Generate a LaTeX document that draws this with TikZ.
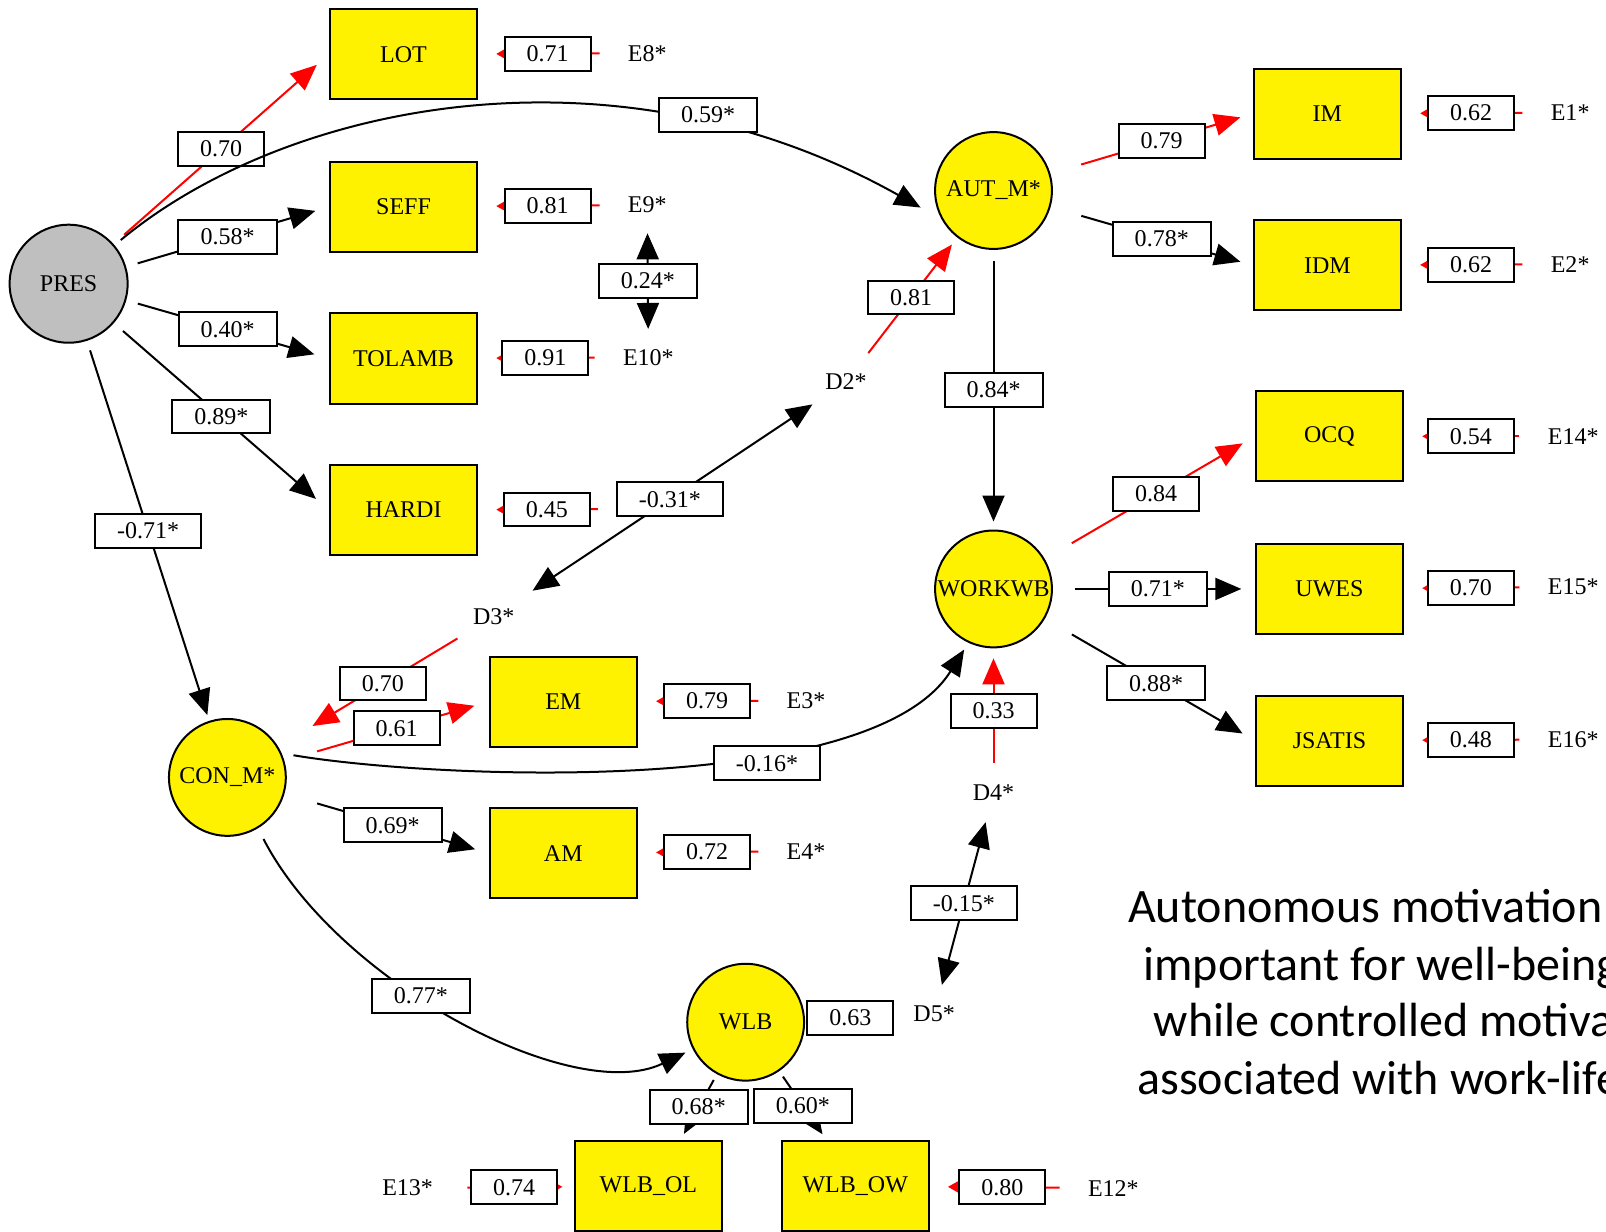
\documentclass[tikz,border=0pt]{standalone}
\usepackage{fontspec}
\setmainfont{Liberation Serif}
\newfontfamily\notefont{Carlito}
\usetikzlibrary{arrows.meta}

\tikzset{
  latent/.style={circle, draw, line width=1pt, fill=yellow, minimum size=58.4pt, inner sep=0pt},
  manifest/.style={rectangle, draw, line width=1pt, fill=yellow, minimum width=73.7pt, minimum height=45pt, inner sep=0pt},
  valbox/.style={rectangle, draw=black, text=black, line width=1pt, fill=white, inner xsep=11pt, inner ysep=0pt, minimum height=16.9pt},
  errlab/.style={inner sep=0pt},
  load/.style={line width=1pt, -{Triangle[length=13pt,width=11pt]}},
  redload/.style={load, red},
  covline/.style={line width=1pt, {Triangle[length=13pt,width=11pt]}-{Triangle[length=13pt,width=11pt]}},
  errline/.style={red, line width=1pt, -{Triangle[length=6pt,width=6.5pt]}, shorten <=14pt, shorten >=9pt}
}

\begin{document}
\begin{tikzpicture}[x=0.512pt,y=0.512pt,yscale=-1,font=\fontsize{12}{14.4}\selectfont]
\useasboundingbox (0,0) rectangle (1568,1202);

%Shape: Circle
\node[latent, fill=black!25, minimum size=59pt] (PRES) at (67,277) {PRES};
\node[latent] (AUTM) at (970,186) {AUT\_M*};
\node[latent] (WORKWB) at (970,575) {WORKWB};
\node[latent] (CONM) at (222,759) {CON\_M*};
\node[latent] (WLB) at (728,998) {WLB};

%Shape: Rectangle
\node[manifest] (LOT) at (394,53) {LOT};
\node[manifest] (SEFF) at (394,202) {SEFF};
\node[manifest] (TOLAMB) at (394,350) {TOLAMB};
\node[manifest] (HARDI) at (394,498) {HARDI};
\node[manifest] (EM) at (550,685) {EM};
\node[manifest] (AM) at (550,833) {AM};
\node[manifest] (IM) at (1296,111) {IM};
\node[manifest] (IDM) at (1296,259) {IDM};
\node[manifest] (OCQ) at (1298,426) {OCQ};
\node[manifest] (UWES) at (1298,575) {UWES};
\node[manifest] (JSATIS) at (1298,723) {JSATIS};
\node[manifest] (WLBOL) at (633,1158) {WLB\_OL};
\node[manifest] (WLBOW) at (835,1158) {WLB\_OW};

% Text Node
\node[errlab] (E8) at (632,52) {E8*};
\node[errlab] (E9) at (632,200) {E9*};
\node[errlab] (E10) at (633,349) {E10*};
\coordinate (E11) at (611,497);
\node[errlab] (E3) at (787,684) {E3*};
\node[errlab] (E4) at (787,831) {E4*};
\node[errlab] (E1) at (1533,110) {E1*};
\node[errlab] (E2) at (1533,258) {E2*};
\node[errlab] (E14) at (1536,426) {E14*};
\node[errlab] (E15) at (1536,573) {E15*};
\node[errlab] (E16) at (1536,722) {E16*};
\node[errlab] (E13) at (398,1160) {E13*};
\node[errlab] (E12) at (1087,1160) {E12*};
\node[errlab] (D2) at (826,373) {D2*};
\node[errlab] (D3) at (482,602) {D3*};
\node[errlab] (D4) at (970,774) {D4*};
\node[errlab] (D5) at (912,990) {D5*};

%Straight Lines
\draw[redload, shorten <=7pt, shorten >=8pt] (PRES) -- node[valbox]{0.70} (LOT.west);
\draw[load, shorten <=6pt, shorten >=7pt] (PRES) -- node[valbox]{0.58*} (SEFF.west);
\draw[load, shorten <=6pt, shorten >=7.5pt] (PRES) -- node[valbox]{0.40*} (TOLAMB.west);
\draw[load, shorten <=6pt, shorten >=8.5pt] (PRES) -- node[valbox]{0.89*} (HARDI.west);
\draw[load, shorten <=5pt, shorten >=3pt] (PRES) -- node[valbox]{-0.71*} (CONM);

%Curve Lines
\draw[load, shorten <=4pt, shorten >=12pt] (PRES.40) .. controls (280,100) and (600,35) .. node[valbox, pos=0.76, yshift=6.5pt]{0.59*} (AUTM.209);
\draw[load, shorten <=6pt, shorten >=4pt] (CONM.24) .. controls (420,760) and (850,780) .. node[valbox, pos=0.65, yshift=-7pt]{-0.16*} (WORKWB.245);
\draw[load, shorten <=6pt, shorten >=4pt] (CONM.-59) .. controls (330,960) and (560,1080) .. node[valbox, pos=0.42]{0.77*} (WLB.207);

%Straight Lines
\draw[redload, shorten <=13pt, shorten >=20pt] (D3) -- node[valbox, pos=0.48]{0.70} (CONM);
\draw[redload, shorten <=17pt, shorten >=7.4pt] (CONM) -- node[valbox, pos=0.55]{0.61} (EM.west);
\draw[load, shorten <=17pt, shorten >=7pt] (CONM) -- node[valbox, pos=0.53]{0.69*} (AM.west);
\draw[covline, shorten <=15.7pt, shorten >=12.6pt] (D3) -- node[valbox]{-0.31*} (D2);
\draw[redload, shorten <=13pt, shorten >=4.4pt] (D2) -- node[valbox, pos=0.56]{0.81} (AUTM);
\draw[load, shorten <=5.5pt, shorten >=4pt] (AUTM) -- node[valbox]{0.84*} (WORKWB);
\draw[redload, shorten <=10.8pt, shorten >=5pt] (D4) -- node[valbox, pos=0.54]{0.33} (WORKWB);
\draw[covline, shorten <=10.9pt, shorten >=10.7pt] (D4) -- node[valbox]{-0.15*} (D5);
\draw[errline, shorten <=10pt, shorten >=2pt] (D5) -- node[valbox, pos=0.58]{0.63} (WLB);
\draw[load, shorten <=3.3pt, shorten >=3.5pt] (WLB) -- node[valbox]{0.68*} (WLBOL.55);
\draw[load, shorten <=3.3pt, shorten >=3.5pt] (WLB) -- node[valbox]{0.60*} (WLBOW.122);
\draw[covline, shorten <=10pt, shorten >=10pt] (E9) -- node[valbox]{0.24*} (E10);

\draw[redload, shorten <=16pt, shorten >=6.4pt] (AUTM) -- node[valbox, pos=0.55]{0.79} (IM.west);
\draw[load, shorten <=16pt, shorten >=6.4pt] (AUTM) -- node[valbox, pos=0.55]{0.78*} (IDM.west);
\draw[redload, shorten <=15.6pt, shorten >=7pt] (WORKWB) -- node[valbox, pos=0.53]{0.84} (OCQ.west);
\draw[load, shorten <=10.8pt, shorten >=6.7pt] (WORKWB) -- node[valbox, pos=0.52]{0.71*} (UWES.west);
\draw[load, shorten <=15.6pt, shorten >=7pt] (WORKWB) -- node[valbox, pos=0.53]{0.88*} (JSATIS.west);

% error terms
\draw[errline] (E8) -- node[valbox, pos=0.535]{0.71} (LOT);
\draw[errline] (E9) -- node[valbox, pos=0.535]{0.81} (SEFF);
\draw[errline] (E10) -- node[valbox, pos=0.535]{0.91} (TOLAMB);
\draw[errline] (E11) -- node[valbox, pos=0.535]{0.45} (HARDI);
\draw[errline] (E3) -- node[valbox, pos=0.535]{0.79} (EM);
\draw[errline] (E4) -- node[valbox, pos=0.535]{0.72} (AM);
\draw[errline] (E1) -- node[valbox, pos=0.535]{0.62} (IM);
\draw[errline] (E2) -- node[valbox, pos=0.535]{0.62} (IDM);
\draw[errline] (E14) -- node[valbox, pos=0.535]{0.54} (OCQ);
\draw[errline] (E15) -- node[valbox, pos=0.535]{0.70} (UWES);
\draw[errline] (E16) -- node[valbox, pos=0.535]{0.48} (JSATIS);
\draw[errline] (E12) -- node[valbox, pos=0.54]{0.80} (WLBOW);
\draw[errline, shorten <=17pt, shorten >=5.6pt] (E13) -- node[valbox, pos=0.576]{0.74} (WLBOL);

% Text Node
\node[anchor=base west, inner sep=0pt, font=\notefont\fontsize{24}{28}\selectfont] (note1) at (1101,901) {Autonomous motivation};
\node[anchor=base west, inner sep=0pt, font=\notefont\fontsize{24}{28}\selectfont] (note2) at (1116,957) {important for well-being};
\node[anchor=base west, inner sep=0pt, font=\notefont\fontsize{24}{28}\selectfont] (note3) at (1126,1012) {while controlled motiva};
\node[anchor=base west, inner sep=0pt, font=\notefont\fontsize{24}{28}\selectfont] (note4) at (1110,1069) {associated with work-life};

\end{tikzpicture}
\end{document}
